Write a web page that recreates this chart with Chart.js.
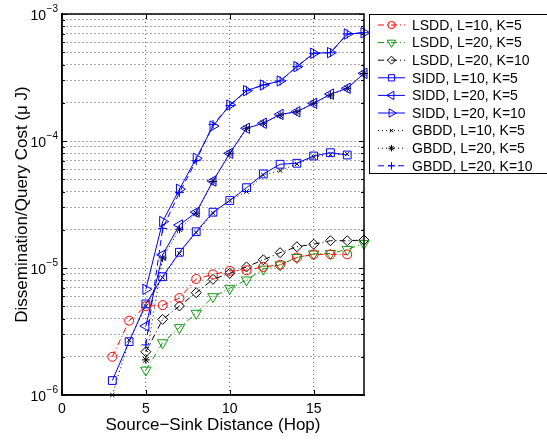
<!DOCTYPE html>
<html>
<head>
<meta charset="utf-8">
<script src="https://cdn.jsdelivr.net/npm/chart.js@4/dist/chart.umd.min.js"></script>
<style>
  html, body { margin: 0; padding: 0; background: #fff; }
  #wrap { width: 547px; height: 440px; }
</style>
</head>
<body>
<div id="wrap"><canvas id="cost"></canvas></div>
<script>
// hop distances
var hopsL10 = [3, 4, 5, 6, 7, 8, 9, 10, 11, 12, 13, 14, 15, 16, 17];
var hopsL20 = [5, 6, 7, 8, 9, 10, 11, 12, 13, 14, 15, 16, 17, 18];

// cost values (uJ)
var lsddL10K5 = [2.0e-6, 3.85e-6, 5.0e-6, 5.1e-6, 5.8e-6, 8.2e-6, 8.9e-6, 9.5e-6, 9.6e-6, 1.02e-5, 1.06e-5, 1.21e-5, 1.28e-5, 1.28e-5, 1.28e-5];
var lsddL20K5 = [1.57e-6, 2.58e-6, 3.39e-6, 4.4e-6, 5.94e-6, 6.92e-6, 8.05e-6, 9.8e-6, 1.06e-5, 1.21e-5, 1.29e-5, 1.3e-5, 1.4e-5, 1.56e-5];
var lsddL20K10 = [2.19e-6, 3.94e-6, 5.02e-6, 6.39e-6, 8.15e-6, 9.08e-6, 1.02e-5, 1.16e-5, 1.32e-5, 1.47e-5, 1.54e-5, 1.64e-5, 1.64e-5, 1.66e-5];
var siddL10K5 = [1.3e-6, 2.63e-6, 5.21e-6, 8.54e-6, 1.33e-5, 1.93e-5, 2.75e-5, 3.4e-5, 4.29e-5, 5.5e-5, 6.56e-5, 6.68e-5, 7.62e-5, 8.09e-5, 7.76e-5];
var siddL20K5 = [3.49e-6, 1.27e-5, 2.18e-5, 2.75e-5, 4.84e-5, 8.0e-5, 1.26e-4, 1.38e-4, 1.62e-4, 1.7e-4, 1.98e-4, 2.34e-4, 2.6e-4, 3.41e-4];
var siddL20K10 = [6.8e-6, 2.32e-5, 4.17e-5, 7.31e-5, 1.31e-4, 1.92e-4, 2.49e-4, 2.76e-4, 2.97e-4, 3.85e-4, 4.91e-4, 4.96e-4, 6.96e-4, 7.12e-4];
var gbddL10K5 = [1.0e-6, 2.7e-6, 5.0e-6, 8.4e-6, 1.3e-5, 1.9e-5, 2.7e-5, 3.4e-5, 4.0e-5, 5.4e-5, 5.85e-5, 6.6e-5, 7.5e-5, 7.8e-5, 7.9e-5];
var gbddL20K5 = [1.89e-6, 1.2e-5, 2.02e-5, 2.7e-5, 4.8e-5, 8.0e-5, 1.26e-4, 1.38e-4, 1.6e-4, 1.7e-4, 1.98e-4, 2.3e-4, 2.6e-4, 3.4e-4];
var gbddL20K10 = [2.48e-6, 2.05e-5, 3.92e-5, 7.0e-5, 1.35e-4, 1.9e-4, 2.49e-4, 2.76e-4, 2.97e-4, 3.85e-4, 4.9e-4, 4.96e-4, 6.96e-4, 7.12e-4];

var xTicks = [0, 5, 10, 15];
var yDecades = [-6, -5, -4, -3];

function pts(xs, ys) {
  return xs.map(function (x, i) { return { x: x, y: ys[i] }; });
}

var dashDot = [6, 3, 1, 3];
var dotted = [1, 3];
var dashed = [6, 4];

function series(label, xs, ys, color, style, rot, dash, r) {
  return {
    label: label,
    data: pts(xs, ys),
    borderColor: color,
    backgroundColor: 'transparent',
    pointBorderColor: color,
    pointBackgroundColor: 'transparent',
    pointStyle: style,
    rotation: rot,
    pointRadius: r,
    pointBorderWidth: 1,
    borderWidth: 1,
    borderDash: dash,
    clip: 8
  };
}

var blue = '#0000ff';
var datasets = [
  series('LSDD, L=10, K=5', hopsL10, lsddL10K5, '#ff0000', 'circle', 0, dashDot, 4.5),
  series('LSDD, L=20, K=5', hopsL20, lsddL20K5, '#119911', 'triangle', 180, dashDot, 6),
  series('LSDD, L=20, K=10', hopsL20, lsddL20K10, '#000000', 'rectRot', 0, dashDot, 5),
  series('SIDD, L=10, K=5', hopsL10, siddL10K5, blue, 'rect', 0, [], 5.5),
  series('SIDD, L=20, K=5', hopsL20, siddL20K5, blue, 'triangle', 270, [], 6),
  series('SIDD, L=20, K=10', hopsL20, siddL20K10, blue, 'triangle', 90, [], 6),
  series('GBDD, L=10, K=5', hopsL10, gbddL10K5, '#000000', 'crossRot', 0, dotted, 3),
  series('GBDD, L=20, K=5', hopsL20, gbddL20K5, '#000000', 'star', 0, dotted, 4),
  series('GBDD, L=20, K=10', hopsL20, gbddL20K10, blue, 'cross', 0, dashed, 4.5)
];

// frame, inner ticks, y tick labels with exponents, legend
var matlabBits = {
  id: 'matlabBits',
  afterDraw: function (chart) {
    var ctx = chart.ctx;
    var a = chart.chartArea;
    var xs = chart.scales.x, ys = chart.scales.y;
    ctx.save();
    // inner tick marks
    ctx.strokeStyle = '#000';
    ctx.lineWidth = 1;
    ctx.setLineDash([]);
    ctx.beginPath();
    xTicks.forEach(function (t) {
      var px = Math.round(xs.getPixelForValue(t)) + 0.5;
      ctx.moveTo(px, a.bottom); ctx.lineTo(px, a.bottom - 5);
      ctx.moveTo(px, a.top); ctx.lineTo(px, a.top + 5);
    });
    ys.ticks.forEach(function (t) {
      var py = Math.round(ys.getPixelForValue(t.value)) + 0.5;
      var len = t.major ? 5 : 3;
      ctx.moveTo(a.left, py); ctx.lineTo(a.left + len, py);
      ctx.moveTo(a.right, py); ctx.lineTo(a.right - len, py);
    });
    ctx.stroke();
    // box
    ctx.lineWidth = 1.5;
    ctx.strokeRect(a.left, a.top, a.right - a.left, a.bottom - a.top);

    // y tick labels 10^n
    ctx.fillStyle = '#000';
    yDecades.forEach(function (e) {
      var py = ys.getPixelForValue(Math.pow(10, e));
      var ex = '\u2212' + Math.abs(e);
      ctx.font = '10px "Liberation Sans", Arial, sans-serif';
      var ew = ctx.measureText(ex).width;
      ctx.textAlign = 'right';
      ctx.textBaseline = 'alphabetic';
      ctx.fillText(ex, 58, py - 2);
      ctx.font = '14px "Liberation Sans", Arial, sans-serif';
      ctx.textBaseline = 'middle';
      ctx.fillText('10', 58 - ew - 0.5, py + 2);
    });

    // legend
    var lx = 369.5, ly = 14.5, lh = 17.6;
    ctx.fillStyle = '#fff';
    ctx.fillRect(lx, ly, 200, 159);
    ctx.strokeStyle = '#000';
    ctx.lineWidth = 1;
    ctx.strokeRect(lx, ly, 200, 159);
    chart.data.datasets.forEach(function (ds, i) {
      var cy = 25 + i * lh;
      ctx.save();
      ctx.strokeStyle = ds.borderColor;
      ctx.lineWidth = ds.borderWidth;
      ctx.setLineDash(ds.borderDash);
      ctx.beginPath();
      ctx.moveTo(378, cy);
      ctx.lineTo(405, cy);
      ctx.stroke();
      ctx.setLineDash([]);
      ctx.strokeStyle = ds.pointBorderColor;
      ctx.fillStyle = ds.pointBackgroundColor;
      ctx.lineWidth = 1;
      Chart.helpers.drawPoint(ctx, {
        pointStyle: ds.pointStyle,
        rotation: ds.rotation,
        radius: ds.pointRadius * 0.8,
        borderWidth: 1
      }, 391.5, cy);
      ctx.restore();
      ctx.fillStyle = '#000';
      ctx.font = '14px "Liberation Sans", Arial, sans-serif';
      ctx.textAlign = 'left';
      ctx.textBaseline = 'middle';
      ctx.fillText(ds.label, 412, cy + 1);
    });
    ctx.restore();
  }
};

var gridDash = [1, 3];

new Chart(document.getElementById('cost'), {
  type: 'line',
  data: { datasets: datasets },
  options: {
    responsive: true,
    maintainAspectRatio: false,
    animation: false,
    layout: { padding: { top: 14, right: 183, left: 0, bottom: 0 } },
    plugins: { legend: { display: false }, tooltip: { enabled: false } },
    scales: {
      x: {
        type: 'linear',
        min: 0,
        max: 18,
        afterBuildTicks: function (scale) {
          scale.ticks = xTicks.map(function (v) { return { value: v }; });
        },
        afterFit: function (scale) { scale.height = 45; },
        ticks: {
          color: '#000',
          padding: 6,
          font: { family: '"Liberation Sans", Arial, sans-serif', size: 14 },
          maxRotation: 0
        },
        grid: { color: '#666', drawTicks: false, lineWidth: 1 },
        border: { display: true, color: '#000', width: 1.5, dash: gridDash },
        title: {
          display: true,
          text: 'Source\u2212Sink Distance (Hop)',
          color: '#000',
          font: { family: '"Liberation Sans", Arial, sans-serif', size: 17 },
          padding: { top: 0, bottom: 4 }
        }
      },
      y: {
        type: 'logarithmic',
        min: 1e-6,
        max: 1e-3,
        afterBuildTicks: function (scale) {
          var t = [];
          yDecades.forEach(function (e) {
            for (var m = 1; m <= 9; m++) {
              if (e === -3 && m > 1) break;
              t.push({ value: m * Math.pow(10, e), major: m === 1 });
            }
          });
          scale.ticks = t;
        },
        afterFit: function (scale) { scale.width = 62; },
        ticks: { display: false },
        grid: { color: '#555', drawTicks: false, lineWidth: 1 },
        border: { display: true, color: '#000', width: 1.5, dash: gridDash },
        title: {
          display: true,
          text: 'Dissemination/Query Cost (\u03bc J)',
          color: '#000',
          font: { family: '"Liberation Sans", Arial, sans-serif', size: 17 },
          padding: { top: 12, bottom: 0 }
        }
      }
    }
  },
  plugins: [matlabBits]
});
</script>
</body>
</html>
